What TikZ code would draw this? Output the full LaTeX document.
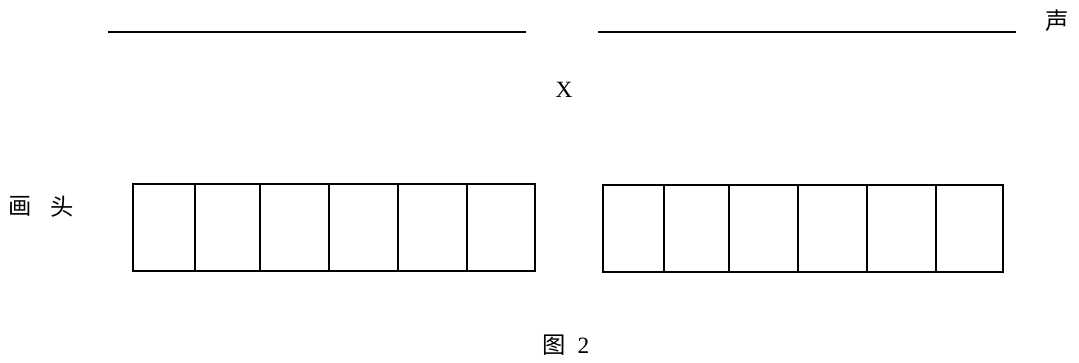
\documentclass[tikz,border=0pt]{standalone}
\usepackage{fontspec}
\setmainfont{Liberation Serif}
\newfontfamily\cjk{Noto Sans CJK SC}

\begin{document}
\begin{tikzpicture}[x=0.75pt,y=-0.75pt,font=\fontsize{17.5}{20}\selectfont]

\useasboundingbox (0,0) rectangle (1079,362);

% Top lines
\draw[line width=1.5pt] (107.7,31.7) -- (525.7,31.7);
\draw[line width=1.5pt] (598,31.7) -- (1015.7,31.7);
\node (sheng) at (1057.5,21) {\cjk 声};

% Middle label
\node (x) at (564,89.5) {X};

% Left label
\node (hua) at (20.5,206.5) {\cjk 画};
\node (tou) at (62.5,206.5) {\cjk 头};

% Left boxes
\draw[line width=1.5pt] (133.3,183.8) rectangle (535,270.8);
\draw[line width=1.5pt] (195,183.8) -- (195,270.8);
\draw[line width=1.5pt] (260,183.8) -- (260,270.8);
\draw[line width=1.5pt] (328.7,183.8) -- (328.7,270.8);
\draw[line width=1.5pt] (397.8,183.8) -- (397.8,270.8);
\draw[line width=1.5pt] (467.3,183.8) -- (467.3,270.8);

% Right boxes
\draw[line width=1.5pt] (603,184.8) rectangle (1003,272.2);
\draw[line width=1.5pt] (664,184.8) -- (664,272.2);
\draw[line width=1.5pt] (729,184.8) -- (729,272.2);
\draw[line width=1.5pt] (797.6,184.8) -- (797.6,272.2);
\draw[line width=1.5pt] (867,184.8) -- (867,272.2);
\draw[line width=1.5pt] (936,184.8) -- (936,272.2);

% Caption
\node (fig) at (566,345) {{\cjk 图}\ \ 2};

\end{tikzpicture}
\end{document}
